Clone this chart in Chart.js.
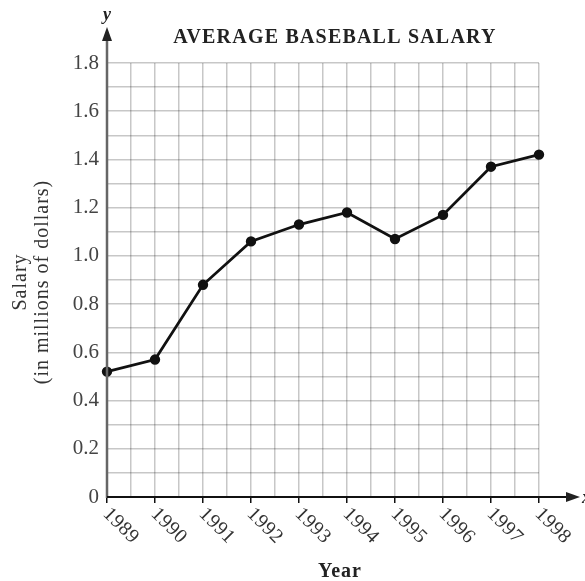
<!DOCTYPE html>
<html>
<head>
<meta charset="utf-8">
<script src="https://cdn.jsdelivr.net/npm/chart.js@4/dist/chart.umd.min.js"></script>
<style>
html,body{margin:0;padding:0;background:#fff;}
#wrap{width:585px;height:581px;}
</style>
</head>
<body>
<div id="wrap"><canvas id="c" width="585" height="581"></canvas></div>
<script>
const years = [1989, 1990, 1991, 1992, 1993, 1994, 1995, 1996, 1997, 1998];
const salary = [0.52, 0.57, 0.88, 1.06, 1.13, 1.18, 1.07, 1.17, 1.37, 1.42];
const yTickLabels = ['0', '0.2', '0.4', '0.6', '0.8', '1.0', '1.2', '1.4', '1.6', '1.8'];
const titleText = 'AVERAGE BASEBALL SALARY';
const yTitle = ['Salary', '(in millions of dollars)'];
const xTitle = 'Year';

const SERIF = '"Liberation Serif", "DejaVu Serif", serif';

const points = years.map((y, i) => ({x: y, y: salary[i]}));

const decor = {
  id: 'decor',
  afterDraw(chart) {
    const ctx = chart.ctx;
    const xs = chart.scales.x, ys = chart.scales.y;
    const x0 = xs.getPixelForValue(years[0]);
    const y0 = ys.getPixelForValue(0);
    const top = ys.getPixelForValue(1.8);
    ctx.save();
    // y axis
    ctx.strokeStyle = '#666';
    ctx.fillStyle = '#222';
    ctx.lineWidth = 2.5;
    ctx.beginPath(); ctx.moveTo(x0, y0 + 1); ctx.lineTo(x0, top - 26); ctx.stroke();
    ctx.beginPath(); ctx.moveTo(x0, top - 36); ctx.lineTo(x0 - 5, top - 22); ctx.lineTo(x0 + 5, top - 22); ctx.closePath(); ctx.fill();
    // x axis
    ctx.strokeStyle = '#111';
    ctx.lineWidth = 2;
    ctx.beginPath(); ctx.moveTo(x0, y0); ctx.lineTo(568, y0); ctx.stroke();
    ctx.beginPath(); ctx.moveTo(580, y0); ctx.lineTo(566, y0 - 5); ctx.lineTo(566, y0 + 5); ctx.closePath(); ctx.fill();
    // axis letters
    ctx.fillStyle = '#222';
    ctx.font = 'italic bold 18px ' + SERIF;
    ctx.textAlign = 'center'; ctx.textBaseline = 'alphabetic';
    ctx.fillText('y', x0, 20);
    ctx.textAlign = 'left'; ctx.textBaseline = 'middle';
    ctx.fillText('x', 582, y0 + 1);
    // title
    ctx.fillStyle = '#222';
    ctx.font = 'bold 20px ' + SERIF;
    ctx.letterSpacing = '1.2px';
    ctx.textAlign = 'center'; ctx.textBaseline = 'middle';
    ctx.fillText(titleText, 335, 38);
    // x tick labels rotated
    ctx.fillStyle = '#333';
    ctx.font = '20px ' + SERIF;
    ctx.letterSpacing = '0.5px';
    years.forEach(yr => {
      const px = xs.getPixelForValue(yr);
      ctx.save();
      ctx.translate(px - 1, y0 + 14);
      ctx.rotate(Math.PI / 4);
      ctx.textAlign = 'left'; ctx.textBaseline = 'middle';
      ctx.fillText(String(yr), 0, 0);
      ctx.restore();
    });
    // x title
    ctx.fillStyle = '#222';
    ctx.font = 'bold 20px ' + SERIF;
    ctx.letterSpacing = '1px';
    ctx.textAlign = 'center'; ctx.textBaseline = 'middle';
    ctx.fillText(xTitle, 340, 572);
    // y title
    ctx.save();
    ctx.translate(21, 282);
    ctx.rotate(-Math.PI / 2);
    ctx.fillStyle = '#333';
    ctx.font = '20px ' + SERIF;
    ctx.letterSpacing = '1px';
    ctx.textAlign = 'center'; ctx.textBaseline = 'middle';
    ctx.fillText(yTitle[0], 0, 0);
    ctx.fillText(yTitle[1], 0, 22);
    ctx.restore();
    ctx.letterSpacing = '0px';
    ctx.restore();
  }
};

new Chart(document.getElementById('c'), {
  type: 'line',
  data: {
    datasets: [{
      data: points,
      borderColor: '#111',
      backgroundColor: '#111',
      borderWidth: 2.8,
      pointRadius: 3.8,
      pointHoverRadius: 3.8,
      tension: 0,
      clip: false
    }]
  },
  options: {
    responsive: false,
    animation: false,
    events: [],
    layout: {padding: {top: 63, right: 46, left: 0, bottom: 0}},
    plugins: {legend: {display: false}, tooltip: {enabled: false}, title: {display: false}},
    scales: {
      x: {
        type: 'linear',
        min: years[0], max: years[years.length - 1],
        ticks: {stepSize: 0.5, display: false},
        grid: {color: 'rgba(0,0,0,0.22)', lineWidth: 1.5, drawTicks: true, tickLength: 6,
               tickColor: c => (c.tick && Number.isInteger(c.tick.value)) ? '#111' : 'rgba(0,0,0,0)', tickWidth: 1.5},
        border: {display: false},
        afterFit: s => { s.height = 84; }
      },
      y: {
        min: 0, max: 1.8,
        ticks: {
          stepSize: 0.1,
          autoSkip: false,
          color: '#444',
          font: {family: SERIF, size: 21},
          padding: 4,
          callback: v => {
            const k = Math.round(v * 10);
            return k % 2 === 0 ? yTickLabels[k / 2] : '';
          }
        },
        grid: {color: 'rgba(0,0,0,0.22)', lineWidth: 1.5, tickLength: 4, tickColor: 'rgba(0,0,0,0)'},
        border: {display: false},
        afterFit: s => { s.width = 107; }
      }
    }
  },
  plugins: [decor]
});
</script>
</body>
</html>
